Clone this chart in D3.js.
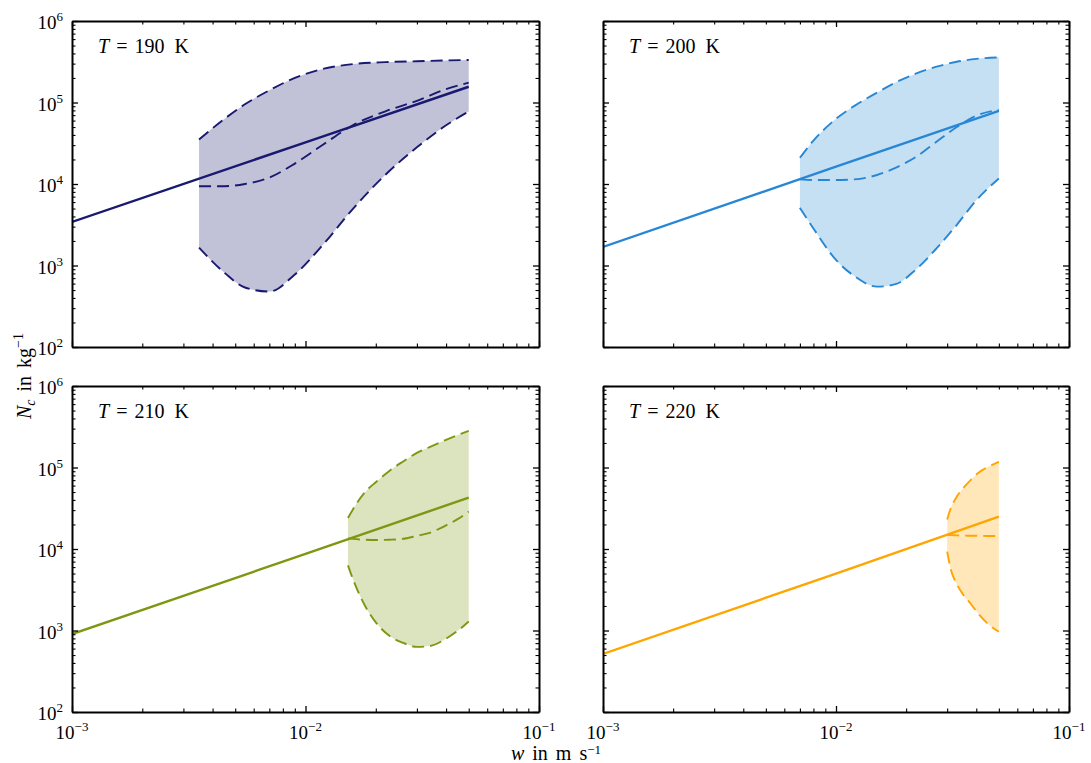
<!DOCTYPE html>
<html>
<head>
<meta charset="utf-8">
<script src="https://cdn.jsdelivr.net/npm/d3@7"></script>
<style>
  body { margin: 0; background: #fff; }
  svg { font-family: "Liberation Serif", "DejaVu Serif", serif; }
</style>
</head>
<body>
<svg id="chart" width="1091" height="763"></svg>
<script>
// axis ticks
const wTicks = [1e-3, 1e-2, 1e-1];
const nTicks = [1e2, 1e3, 1e4, 1e5, 1e6];
const temps = [190, 200, 210, 220];
const lineColors = ["#191970", "#2887d4", "#7d9712", "#ffa500"];

// solid lines [w, N]
const solid190 = [[0.001, 3420], [0.01, 3.25e4], [0.05, 1.56e5]];
const solid200 = [[0.001, 1690], [0.01, 1.63e4], [0.05, 7.9e4]];
const solid210 = [[0.001, 906], [0.01, 8.7e3], [0.05, 4.27e4]];
const solid220 = [[0.001, 515], [0.01, 5.0e3], [0.05, 2.49e4]];

// shaded ranges: w grid, upper / middle / lower dashed curves
const w190 = [0.0035, 0.0045, 0.0055, 0.007, 0.009, 0.012, 0.016, 0.022, 0.03, 0.04, 0.05];
const upper190 = [3.52e4, 6.3e4, 9.5e4, 1.41e5, 2.0e5, 2.6e5, 2.96e5, 3.13e5, 3.21e5, 3.28e5, 3.32e5];
const middle190 = [9.4e3, 9.4e3, 1.0e4, 1.2e4, 1.78e4, 3.1e4, 5.3e4, 7.8e4, 1.05e5, 1.46e5, 1.75e5];
const lower190 = [1.66e3, 813, 537, 479, 776, 1.86e3, 5.0e3, 1.30e4, 2.82e4, 5.25e4, 7.76e4];

const w200 = [0.007, 0.008, 0.01, 0.012, 0.015, 0.018, 0.022, 0.027, 0.033, 0.04, 0.05];
const upper200 = [2.1e4, 3.4e4, 6.3e4, 9.1e4, 1.32e5, 1.76e5, 2.26e5, 2.75e5, 3.16e5, 3.43e5, 3.58e5];
const middle200 = [1.14e4, 1.12e4, 1.12e4, 1.14e4, 1.29e4, 1.58e4, 2.14e4, 3.3e4, 5.0e4, 6.9e4, 8.1e4];
const lower200 = [5.1e3, 2.85e3, 1.17e3, 740, 550, 590, 890, 1.62e3, 3.16e3, 6.3e3, 1.17e4];

const w210 = [0.0152, 0.016, 0.018, 0.02, 0.023, 0.026, 0.03, 0.034, 0.04, 0.045, 0.05];
const upper210 = [2.4e4, 3.1e4, 5.0e4, 6.6e4, 9.2e4, 1.17e5, 1.51e5, 1.78e5, 2.19e5, 2.51e5, 2.82e5];
const middle210 = [1.35e4, 1.33e4, 1.30e4, 1.29e4, 1.30e4, 1.33e4, 1.45e4, 1.58e4, 1.95e4, 2.34e4, 2.88e4];
const lower210 = [6.3e3, 4.2e3, 2.0e3, 1.26e3, 850, 710, 630, 645, 795, 1.0e3, 1.29e3];

const w220 = [0.03, 0.031, 0.033, 0.035, 0.038, 0.041, 0.045, 0.05];
const upper220 = [2.3e4, 3.1e4, 4.4e4, 5.5e4, 7.1e4, 8.7e4, 1.02e5, 1.17e5];
const middle220 = [1.49e4, 1.48e4, 1.47e4, 1.46e4, 1.455e4, 1.45e4, 1.445e4, 1.44e4];
const lower220 = [9.3e3, 5.8e3, 3.7e3, 2.8e3, 2.1e3, 1.58e3, 1.2e3, 966];

const panels = [
  {t: temps[0], color: lineColors[0], solid: solid190, w: w190, upper: upper190, middle: middle190, lower: lower190},
  {t: temps[1], color: lineColors[1], solid: solid200, w: w200, upper: upper200, middle: middle200, lower: lower200},
  {t: temps[2], color: lineColors[2], solid: solid210, w: w210, upper: upper210, middle: middle210, lower: lower210},
  {t: temps[3], color: lineColors[3], solid: solid220, w: w220, upper: upper220, middle: middle220, lower: lower220}
];

// layout
const cols = [{left: 72, width: 467}, {left: 603, width: 466}];
const rows = [{top: 21, height: 326}, {top: 386, height: 326}];

const svg = d3.select('#chart');

function minorTicks(lo, hi) {
  const out = [];
  for (let e = lo; e < hi; e++) {
    for (let m = 2; m <= 9; m++) out.push(m * Math.pow(10, e));
  }
  return out;
}

function powLabel(sel, exp) {
  sel.append('tspan').text('10');
  sel.append('tspan').attr('dy', -8).attr('font-size', 13).text(exp < 0 ? '\u2212' + (-exp) : exp);
}

panels.forEach(function(p, i) {
  const c = cols[i % 2], r = rows[Math.floor(i / 2)];
  const x = d3.scaleLog().domain([1e-3, 1e-1]).range([0, c.width]);
  const y = d3.scaleLog().domain([1e2, 1e6]).range([r.height, 0]);

  const g = svg.append('g').attr('transform', `translate(${c.left},${r.top})`);

  g.append('clipPath').attr('id', 'clip' + i)
    .append('rect').attr('width', c.width).attr('height', r.height);
  const plot = g.append('g').attr('clip-path', `url(#clip${i})`);

  const band = p.w.map((v, j) => ({w: v, hi: p.upper[j], mid: p.middle[j], lo: p.lower[j]}));

  const area = d3.area()
    .x(d => x(d.w)).y0(d => y(d.lo)).y1(d => y(d.hi))
    .curve(d3.curveMonotoneX);
  plot.append('path').datum(band)
    .attr('d', area)
    .attr('fill', p.color).attr('fill-opacity', 0.27).attr('stroke', 'none');

  ['hi', 'mid', 'lo'].forEach(function(k) {
    const ln = d3.line().x(d => x(d.w)).y(d => y(d[k])).curve(d3.curveMonotoneX);
    plot.append('path').datum(band)
      .attr('d', ln)
      .attr('fill', 'none').attr('stroke', p.color)
      .attr('stroke-width', 1.9).attr('stroke-dasharray', '12,6');
  });

  const solidLine = d3.line().x(d => x(d[0])).y(d => y(d[1]));
  plot.append('path').datum(p.solid)
    .attr('d', solidLine)
    .attr('fill', 'none').attr('stroke', p.color).attr('stroke-width', 2.4);

  // axes, ticks pointing inward on all four sides
  const xMinor = minorTicks(-3, -1), yMinor = minorTicks(2, 6);
  const axes = [
    [d3.axisBottom(x), `translate(0,${r.height})`, wTicks, xMinor],
    [d3.axisTop(x), 'translate(0,0)', wTicks, xMinor],
    [d3.axisLeft(y), 'translate(0,0)', nTicks, yMinor],
    [d3.axisRight(y), `translate(${c.width},0)`, nTicks, yMinor]
  ];
  axes.forEach(function(a) {
    const major = g.append('g').attr('transform', a[1])
      .call(a[0].tickValues(a[2]).tickSizeInner(-6).tickSizeOuter(0).tickFormat(''));
    major.select('.domain').attr('stroke', '#000').attr('stroke-width', 2);
    major.selectAll('.tick line').attr('stroke', '#000').attr('stroke-width', 1.3);
    const minor = g.append('g').attr('transform', a[1])
      .call(a[0].tickValues(a[3]).tickSizeInner(-3.5).tickSizeOuter(0).tickFormat(''));
    minor.select('.domain').remove();
    minor.selectAll('.tick line').attr('stroke', '#000').attr('stroke-width', 1.1);
  });

  if (i % 2 === 0) {
    nTicks.forEach(function(v) {
      const t = g.append('text')
        .attr('x', -9).attr('y', y(v) + 8)
        .attr('text-anchor', 'end').attr('font-size', 19);
      powLabel(t, Math.round(Math.log10(v)));
    });
  }
  if (i >= 2) {
    wTicks.forEach(function(v) {
      const t = g.append('text')
        .attr('x', x(v)).attr('y', r.height + 27)
        .attr('text-anchor', 'middle').attr('font-size', 19);
      powLabel(t, Math.round(Math.log10(v)));
    });
  }

  // panel title
  const lab = g.append('text').attr('x', 26).attr('y', 32).attr('font-size', 20);
  lab.append('tspan').attr('font-style', 'italic').text('T');
  lab.append('tspan').attr('dx', 7).text('=');
  lab.append('tspan').attr('dx', 7).text(p.t);
  lab.append('tspan').attr('dx', 10).text('K');
});

// axis titles
const yl = svg.append('text')
  .attr('transform', 'translate(31,376) rotate(-90)')
  .attr('text-anchor', 'middle').attr('font-size', 20).attr('word-spacing', 3);
yl.append('tspan').attr('font-style', 'italic').text('N');
yl.append('tspan').attr('font-style', 'italic').attr('font-size', 14).attr('dy', 4).text('c');
yl.append('tspan').attr('dy', -4).text(' in kg');
yl.append('tspan').attr('font-size', 14).attr('dy', -8).text('\u22121');

const xl = svg.append('text')
  .attr('x', 556).attr('y', 760)
  .attr('text-anchor', 'middle').attr('font-size', 20).attr('word-spacing', 3);
xl.append('tspan').attr('font-style', 'italic').text('w');
xl.append('tspan').text(' in m s');
xl.append('tspan').attr('font-size', 13).attr('dy', -6).text('\u22121');
</script>
</body>
</html>
